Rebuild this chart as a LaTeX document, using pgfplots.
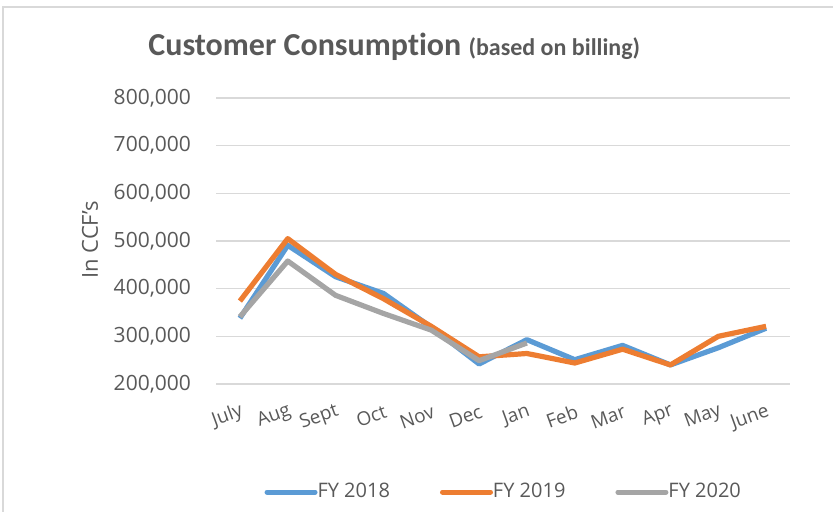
\documentclass[border=0pt]{standalone}
\usepackage{pgfplots}
\pgfplotsset{compat=1.18}
\usepackage{fontspec}
\setmainfont{Open Sans}
\newfontfamily\carlito[Ligatures=NoCommon]{Carlito}
\definecolor{cblue}{HTML}{5B9BD5}
\definecolor{corange}{HTML}{ED7D31}
\definecolor{cgray}{HTML}{A5A5A5}
\definecolor{ctext}{HTML}{595959}
\definecolor{cgrid}{HTML}{D9D9D9}
\begin{document}
\begin{tikzpicture}
\path[use as bounding box] (0,0) rectangle (416.5pt,256pt);
\draw[cgrid, line width=0.8pt] (1.5pt,0) -- (1.5pt,252.5pt) -- (416.5pt,252.5pt);
\begin{axis}[
  at={(108pt,64pt)}, anchor=south west,
  scale only axis, width=287pt, height=143pt,
  xmin=-0.5, xmax=11.5, ymin=200000, ymax=800000,
  xtick={0,...,11},
  xticklabels={July,Aug,Sept,Oct,Nov,Dec,Jan,Feb,Mar,Apr,May,June},
  ytick={200000,300000,400000,500000,600000,700000,800000},
  yticklabels={{200,000},{300,000},{400,000},{500,000},{600,000},{700,000},{800,000}},
  scaled y ticks=false,
  axis line style={draw=none},
  major tick length=0pt,
  ymajorgrids, grid style={cgrid, line width=0.8pt},
  tick label style={font=\fontsize{10.5}{12}\selectfont, text=ctext},
  yticklabel style={xshift=-9pt},
  xticklabel style={rotate=20, anchor=east, font=\fontsize{9.5}{11}\selectfont, yshift=-13pt, xshift=0pt},
  legend style={at={(0.503,-0.378)}, anchor=center, draw=none, fill=none,
    legend columns=3, font=\fontsize{10}{12}\selectfont, text=ctext,
    /tikz/every even column/.append style={column sep=23pt},
    /tikz/every odd column/.append style={column sep=-2pt}},
  legend image code/.code={\draw[#1, line width=2.5pt, line cap=round] (0pt,0pt) -- (24pt,0pt);},
  every axis plot/.append style={line width=2.6pt, line join=round},
]
\addplot[cblue] coordinates {(0,338000) (1,491000) (2,425000) (3,390000) (4,319000) (5,242000) (6,293000) (7,251000) (8,281000) (9,240000) (10,276000) (11,317000)};
\addlegendentry{FY 2018}
\addplot[corange] coordinates {(0,374000) (1,505000) (2,430000) (3,379000) (4,321000) (5,257000) (6,264000) (7,244000) (8,273000) (9,240000) (10,300000) (11,321000)};
\addlegendentry{FY 2019}
\addplot[cgray] coordinates {(0,341000) (1,458000) (2,386000) (3,348000) (4,313000) (5,249000) (6,286000)};
\addlegendentry{FY 2020}
\end{axis}
\node[anchor=base west, inner sep=0pt, text=ctext] at (74pt,228pt) {\carlito\bfseries\fontsize{16}{19}\selectfont Customer Consumption \fontsize{12}{14}\selectfont(based on billing)};
\node[rotate=90, text=ctext, font=\fontsize{11}{13}\selectfont] at (45pt,136pt) {In CCF's};
\end{tikzpicture}
\end{document}
